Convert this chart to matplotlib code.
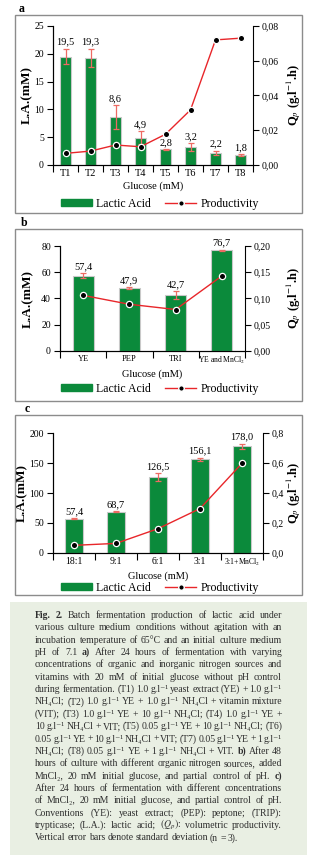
import numpy as np
import matplotlib
matplotlib.use("Agg")
import matplotlib.pyplot as plt
from matplotlib.patches import Rectangle
from matplotlib.lines import Line2D
from matplotlib.ticker import FuncFormatter

plt.rcParams['font.family'] = ['Liberation Serif', 'DejaVu Serif']
plt.rcParams['mathtext.fontset'] = 'stix'

# panel a
cats_a = ['T1', 'T2', 'T3', 'T4', 'T5', 'T6', 'T7', 'T8']
la_a = [19.5, 19.3, 8.6, 4.9, 2.8, 3.2, 2.2, 1.8]
err_a = [1.4, 1.6, 2.2, 1.2, 0.1, 0.7, 0.4, 0.1]
qp_a = [0.0067, 0.008, 0.0115, 0.0105, 0.0177, 0.0317, 0.072, 0.073]

# panel b
cats_b = ['YE', 'PEP', 'TRI', 'YE and MnCl$_2$']
la_b = [57.4, 47.9, 42.7, 76.7]
err_b = [2.0, 0.5, 3.0, 0.5]
qp_b = [0.106, 0.089, 0.079, 0.143]

# panel c
cats_c = ['18:1', '9:1', '6:1', '3:1', '3:1+MnCl$_2$']
la_c = [57.4, 68.7, 126.5, 156.1, 178.0]
err_c = [0.3, 0.8, 7.0, 2.5, 4.0]
qp_c = [0.051, 0.064, 0.162, 0.296, 0.598]

caption = [
    "Fig. 2. Batch fermentation production of lactic acid under",
    "various culture medium conditions without agitation with an",
    "incubation temperature of 65°C and an initial culture medium",
    "pH of 7.1 a) After 24 hours of fermentation with varying",
    "concentrations of organic and inorganic nitrogen sources and",
    "vitamins with 20 mM of initial glucose without pH control",
    "during fermentation. (T1) 1.0 g.l⁻¹ yeast extract (YE) + 1.0 g.l⁻¹",
    "NH₄Cl; (T2) 1.0 g.l⁻¹ YE + 1.0 g.l⁻¹ NH₄Cl + vitamin mixture",
    "(VIT); (T3) 1.0 g.l⁻¹ YE + 10 g.l⁻¹ NH₄Cl; (T4) 1.0 g.l⁻¹ YE +",
    "10 g.l⁻¹ NH₄Cl + VIT; (T5) 0.05 g.l⁻¹ YE + 10 g.l⁻¹ NH₄Cl; (T6)",
    "0.05 g.l⁻¹ YE + 10 g.l⁻¹ NH₄Cl + VIT; (T7) 0.05 g.l⁻¹ YE + 1 g.l⁻¹",
    "NH₄Cl; (T8) 0.05 g.l⁻¹ YE + 1 g.l⁻¹ NH₄Cl + VIT. b) After 48",
    "hours of culture with different organic nitrogen sources, added",
    "MnCl₂, 20 mM initial glucose, and partial control of pH. c)",
    "After 24 hours of fermentation with different concentrations",
    "of MnCl₂, 20 mM initial glucose, and partial control of pH.",
    "Conventions (YE): yeast extract; (PEP): peptone; (TRIP):",
    "trypticase; (L.A.): lactic acid; $(Q_p)$: volumetric productivity.",
    "Vertical error bars denote standard deviation (n = 3).",
]
bold_words = {"Fig.", "2.", "a)", "b)", "c)"}
left_lines = {18}

W, H = 320, 855
green = '#0b8a3b'
red = '#e8262a'
errc = '#ee6b63'
boxc = '#8c8c8c'

fig = plt.figure(figsize=(W / 100, H / 100), dpi=100)


def fx(px):
    return px / W


def fy(py):
    return 1 - py / H


def comma(fmt):
    return FuncFormatter(lambda v, p: (fmt % v).replace('.', ','))


def panel(px, cats, la, err, qp, ylim, ystep, qlim, qstep, qfmt, xfs, lastfs, lab_l):
    l, r, t, b = px
    ax = fig.add_axes([fx(l), fy(b), fx(r - l), (b - t) / H])
    x = np.arange(len(cats))
    ax.bar(x, la, width=0.45, color=green, edgecolor='#c9c9c9', linewidth=0.8, zorder=2)
    ax.errorbar(x, la, yerr=err, fmt='none', ecolor=errc, elinewidth=0.9, capsize=2, capthick=0.9, zorder=3)
    for xi, v, e in zip(x, la, err):
        ax.annotate(('%.1f' % v).replace('.', ','), (xi, v + e), xytext=(0, 1.5),
                    textcoords='offset points', ha='center', va='bottom', fontsize=7.5)
    ax.set_xlim(-0.5, len(cats) - 0.5)
    ax.set_ylim(*ylim)
    ax.set_yticks(np.arange(ylim[0], ylim[1] + ystep / 2, ystep))
    ax.yaxis.set_major_formatter(comma('%d'))
    ax.set_xticks(x)
    ax.set_xticklabels(cats, fontsize=xfs)
    ax.get_xticklabels()[-1].set_fontsize(lastfs)
    ax.set_xticks(np.arange(-0.5, len(cats)), minor=True)
    ax.tick_params(axis='x', which='major', length=0, pad=3)
    ax.tick_params(axis='x', which='minor', length=5, width=0.8, direction='out')
    ax.tick_params(axis='y', length=4, width=0.8, labelsize=7, pad=2.5)
    ax.spines['top'].set_visible(False)
    ax.spines['right'].set_visible(False)
    for s in ['left', 'bottom']:
        ax.spines[s].set_linewidth(0.8)
    ax.set_ylabel('L.A.(mM)', fontsize=9.5, fontweight='bold', va='center')
    ax.yaxis.set_label_coords((lab_l - l) / (r - l), 0.5)
    ax.set_xlabel('Glucose (mM)', fontsize=7.5, labelpad=2)

    ax2 = ax.twinx()
    ax2.plot(x, qp, color=red, linewidth=1, marker='o', markersize=4.5,
             markerfacecolor='black', markeredgecolor='white', markeredgewidth=0.9, zorder=4)
    ax2.set_ylim(*qlim)
    ax2.set_yticks(np.arange(qlim[0], qlim[1] + qstep / 2, qstep))
    ax2.yaxis.set_major_formatter(comma(qfmt))
    ax2.tick_params(axis='y', length=4, width=0.8, labelsize=7, pad=2.5)
    ax2.spines['top'].set_visible(False)
    ax2.spines['right'].set_linewidth(0.8)
    ax2.set_ylabel('Q$_p$ (g.l$^{-1}$.h)', fontsize=9, fontweight='bold', va='center')
    ax2.yaxis.set_label_coords((294 - l) / (r - l), 0.5)
    return ax


# frames and panel letters
for (t, b), letter, lx in [((15, 213), 'a', 22), ((229, 401), 'b', 24), ((415, 595), 'c', 27)]:
    fig.patches.append(Rectangle((fx(15), fy(b)), fx(287), (b - t) / H, transform=fig.transFigure,
                                 fill=False, edgecolor=boxc, linewidth=1))
    fig.text(fx(lx), fy(t - 6), letter, fontsize=8.5, fontweight='bold', ha='center', va='center')

panel((53, 253, 26, 165), cats_a, la_a, err_a, qp_a, (0, 25), 5, (0, 0.08), 0.02, '%.2f', 7.5, 7.5, 27)
panel((60, 245, 246, 351), cats_b, la_b, err_b, qp_b, (0, 80), 20, (0, 0.2), 0.05, '%.2f', 6, 5.5, 28)
panel((53, 263, 433, 553), cats_c, la_c, err_c, qp_c, (0, 200), 50, (0, 0.8), 0.2, '%.1f', 7, 5.5, 22)

handles = [Rectangle((0, 0), 1, 1, color=green),
           Line2D([], [], color=red, linewidth=1, marker='o', markersize=4,
                  markerfacecolor='black', markeredgecolor='white')]
for ly in [204, 389, 588]:
    fig.legend(handles, ['Lactic Acid', 'Productivity'], loc='center', bbox_to_anchor=(fx(160), fy(ly)),
               ncol=2, frameon=False, fontsize=8.5, handlelength=2.6, handleheight=0.5,
               columnspacing=1.2, handletextpad=0.4, borderpad=0)

# caption
fig.patches.append(Rectangle((fx(10), 0), fx(297), (855 - 602) / H, transform=fig.transFigure,
                             facecolor='#e9efe3', edgecolor='none', zorder=0))
renderer = fig.canvas.get_renderer()
x0, x1 = 35, 282
cap_fs = 7.0
for i, line in enumerate(caption):
    y = 618 + i * 12.35
    words = line.split(' ')
    texts = []
    for w in words:
        t = fig.text(0, fy(y), w, fontsize=cap_fs, va='baseline', color='#2e2e2e',
                     fontweight='bold' if w in bold_words else 'normal')
        texts.append(t)
    widths = [t.get_window_extent(renderer).width for t in texts]
    if i in left_lines:
        gap = 2.2
    else:
        gap = max(1.0, (x1 - x0 - sum(widths)) / (len(words) - 1))
    px = x0
    for t, wd in zip(texts, widths):
        t.set_x(fx(px))
        px += wd + gap

fig.savefig('out.png', dpi=100)
